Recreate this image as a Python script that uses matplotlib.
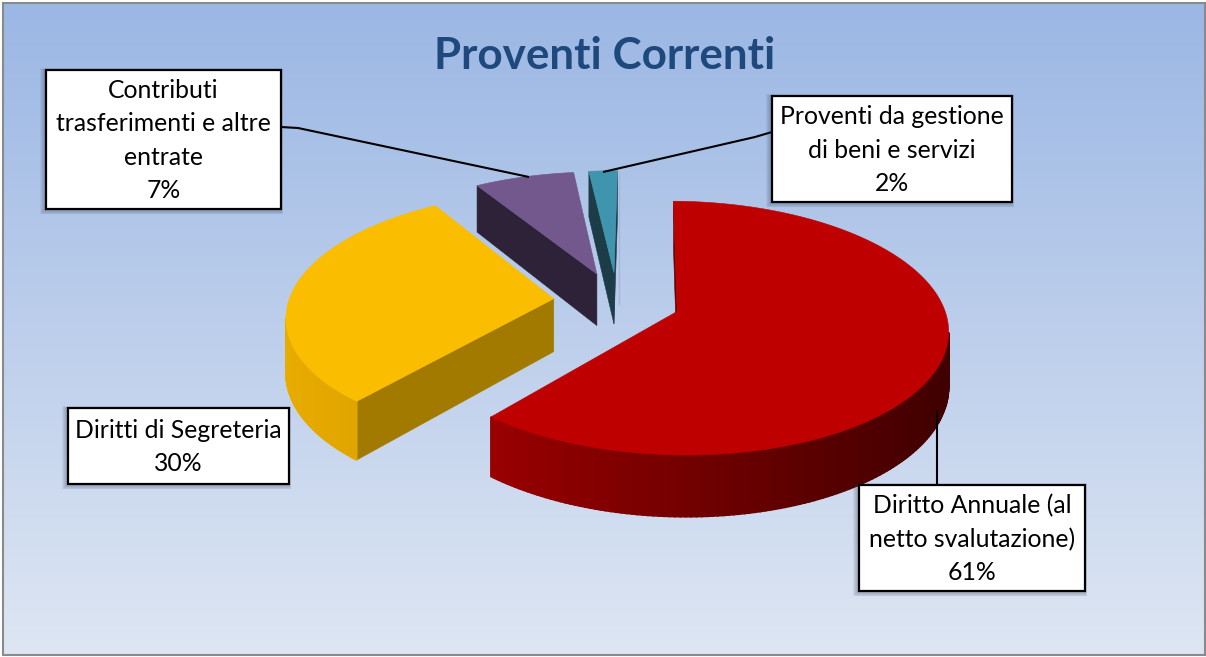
#!/usr/bin/env python3
"""Proventi Correnti: torta 3D esplosa, prospettiva calcolata a mano."""
import numpy as np
import matplotlib
matplotlib.use("Agg")
import matplotlib.pyplot as plt
from matplotlib.patches import Polygon, Rectangle

TITLE = "Proventi Correnti"
categories = ["Diritto Annuale (al\nnetto svalutazione)", "Diritti di Segreteria",
              "Contributi\ntrasferimenti e altre\nentrate", "Proventi da gestione\ndi beni e servizi"]
values = [61, 30, 7, 2]

top_colors = ["#bf0000", "#fbbd00", "#72588d", "#4095ae"]
cut_colors = ["#640000", "#a27a00", "#2d2238", "#1c3c48"]
wall_left = [(0.60, 0, 0), (0.91, 0.67, 0), (0.18, 0.13, 0.22), (0.11, 0.24, 0.28)]
wall_right = [(0.25, 0, 0), (0.78, 0.58, 0), (0.18, 0.13, 0.22), (0.11, 0.24, 0.28)]

EXPLODE = 0.24
START_ANGLE = 89.2
CX, CY, RX, RY = 617, 301, 265, 122
PERSP = 0.13
DEPTH = 53

W, H = 1206, 657
fig = plt.figure(figsize=(W / 100, H / 100), dpi=100, facecolor="white")
plt.rcParams["font.family"] = ["Lato", "DejaVu Sans"]

# solo per ricavare gli angoli e i centri delle fette
pie_ax = fig.add_axes([0, 0, 1, 1])
wedges, _ = pie_ax.pie(values, explode=[EXPLODE] * len(values), startangle=START_ANGLE, counterclock=False)
pie_ax.set_visible(False)

ax = fig.add_axes([0, 0, 1, 1])
ax.set_xlim(0, W)
ax.set_ylim(H, 0)
ax.axis("off")

grad = np.linspace(0, 1, 256)[:, None]
top_c, bottom_c = np.array([155, 183, 228]) / 255, np.array([222, 230, 243]) / 255
bg = top_c + (bottom_c - top_c) * grad[..., None]
ax.imshow(bg, extent=[3, 1205, 655, 3], aspect="auto", zorder=0)
ax.set_xlim(0, W)
ax.set_ylim(H, 0)
ax.add_patch(Rectangle((3, 3), 1202, 652, fill=False, ec="#8a8a8a", lw=1.5, zorder=1))


def project(x, y):
    s = 1 / (1 + PERSP * y)
    return CX + RX * x * s, CY - RY * y * s, s


def face(pts, color, z, lw=0.4):
    ax.add_patch(Polygon(pts, closed=True, fc=color, ec=color, lw=lw, zorder=z))


for i in [3, 2, 1, 0]:
    w = wedges[i]
    cx, cy = w.center
    # senso orario: dal bordo iniziale verso quello finale
    th = np.radians(np.linspace(w.theta2, w.theta1, max(4, int(w.theta2 - w.theta1))))
    xs = np.r_[cx, cx + w.r * np.cos(th)]
    ys = np.r_[cy, cy + w.r * np.sin(th)]
    px, py, ps = project(xs, ys)
    n = len(px)
    xmin, xmax = px.min(), px.max()
    for a in range(n):
        b = (a + 1) % n
        if px[b] >= px[a]:
            continue  # faccia nascosta
        quad = [(px[a], py[a]), (px[b], py[b]),
                (px[b], py[b] + DEPTH * ps[b]), (px[a], py[a] + DEPTH * ps[a])]
        if a == 0 or b == 0:
            face(quad, cut_colors[i], 3 + i * 0.1)
        else:
            t = ((px[a] + px[b]) / 2 - xmin) / max(xmax - xmin, 1)
            col = tuple(np.array(wall_left[i]) * (1 - t) + np.array(wall_right[i]) * t)
            face(quad, col, 3 + i * 0.1, lw=1.2)
    face(np.c_[px, py], top_colors[i], 4 + i * 0.1)
    if i == 3:
        # filo chiaro a destra della fetta piu' piccola
        ax.plot([px[-1] + 1, px[-1] + 1], [py[-1] + 2, py[0] + DEPTH * ps[0] - 20],
                color="#aab6d8", lw=1, zorder=2.5)

box_rects = [(859, 485, 226, 106), (68, 408, 221, 76), (46, 70, 235, 139), (772, 96, 240, 106)]
leaders = [[(937, 485), (937, 410)], None,
           [(281, 127), (298, 128), (529, 177)],
           [(772, 132), (755, 137), (603, 172)]]

for cat, val, (bx, by, bw, bh), lead in zip(categories, values, box_rects, leaders):
    if lead is not None:
        ax.plot(*zip(*lead), color="black", lw=1.5, zorder=6, solid_capstyle="butt")
    for k in range(6, 0, -1):
        ax.add_patch(Rectangle((bx - k, by - k * 0.3), bw + k * 1.3, bh + k * 1.2,
                               fc="#303850", ec="none", alpha=0.07, zorder=6.5))
    ax.add_patch(Rectangle((bx, by), bw, bh, fc="white", ec="black", lw=1.6, zorder=7))
    ax.text(bx + bw / 2, by + bh / 2 + 1, f"{cat}\n{val}%", ha="center", va="center",
            fontsize=17.8, linespacing=1.55, color="black", zorder=8)

ax.text(605, 56, TITLE, ha="center", va="center", fontsize=31.7, fontweight="bold",
        color="#1f497d", zorder=8)

fig.savefig("out.png", dpi=100)
